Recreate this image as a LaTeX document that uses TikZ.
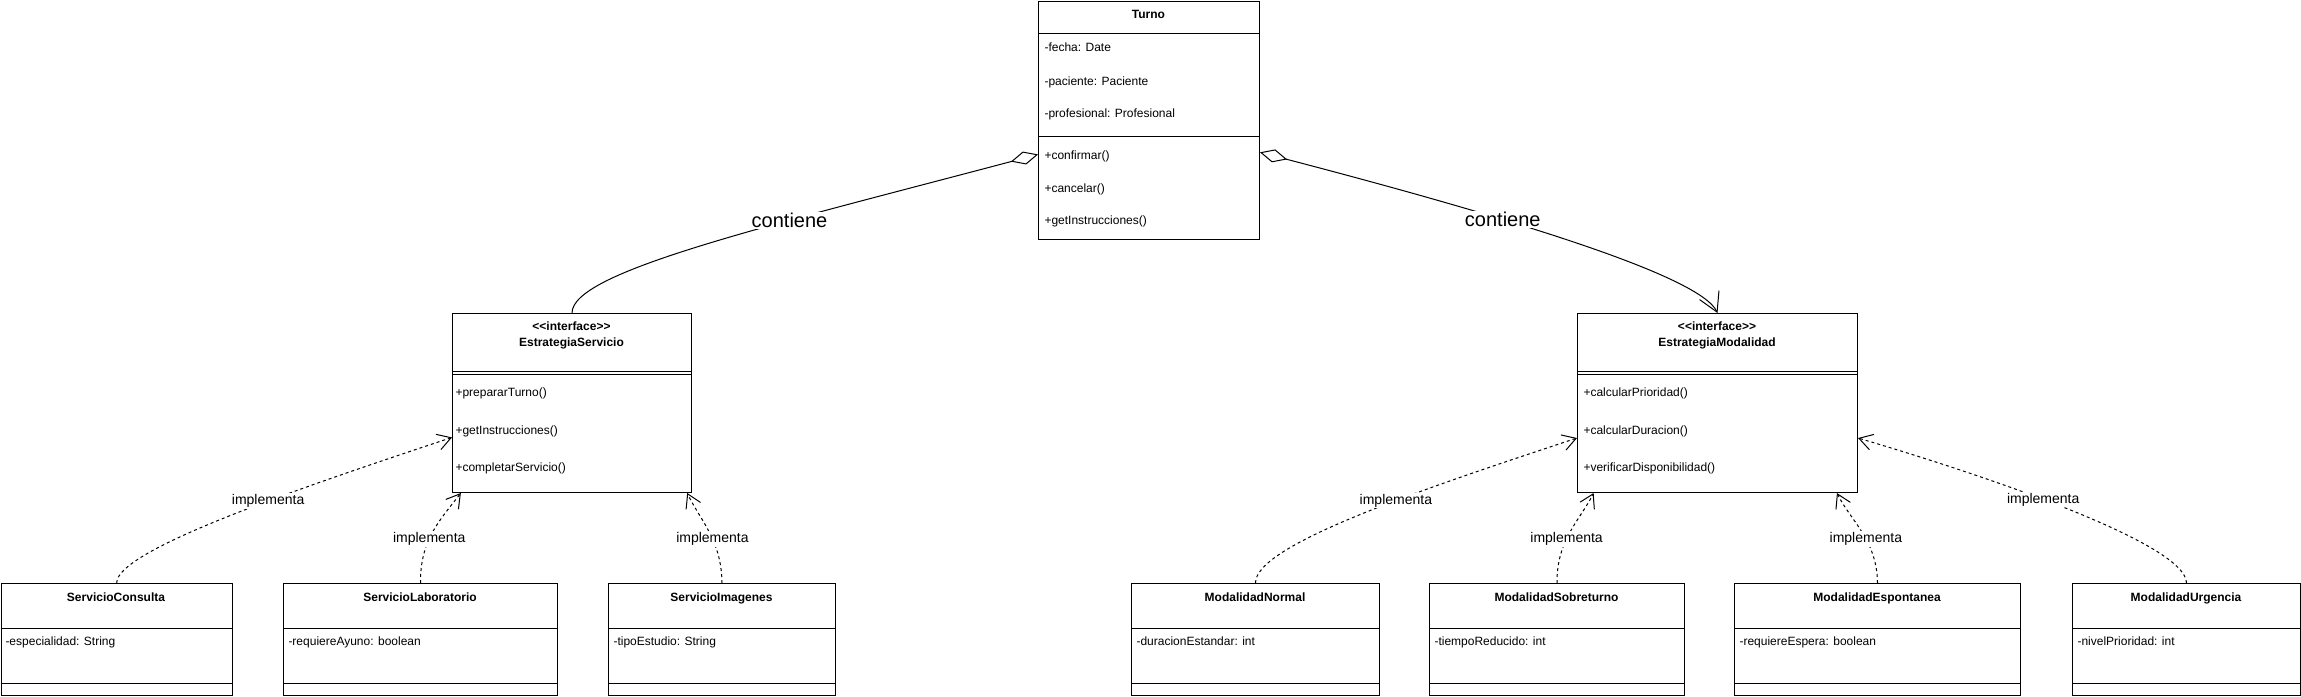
\documentclass[tikz,border=0pt]{standalone}
\usepackage{fontspec}
\setmainfont{Liberation Sans}
\usetikzlibrary{arrows.meta}

\begin{document}
\begin{tikzpicture}
      [x=0.75pt, y=-0.75pt, line width=0.75pt,
       classbox/.style={draw, anchor=north west, inner sep=0pt},
       member/.style={anchor=base west, inner sep=0pt, font=\fontsize{9}{11}\selectfont},
       title/.style={anchor=base, inner sep=0pt, font=\bfseries\fontsize{9}{11}\selectfont},
       contains/.style={{Diamond[open,length=21pt,width=10pt]}-},
       implements/.style={dashed, dash pattern=on 2.25pt off 2.25pt, -{Straight Barb[length=10pt,width=12pt]}},
       edgelabel/.style={fill=white, inner sep=1pt, font=\fontsize{10.5}{12}\selectfont},
       biglabel/.style={fill=white, inner sep=1pt, font=\fontsize{15}{18}\selectfont}]
      \useasboundingbox (0,0) rectangle (2301,696);

      % Turno
      \node (turno) [classbox, minimum width=165.75pt, minimum height=178.5pt] at (1038,1) {};
      \node (turnoname) [title] at (1148.5,18) {Turno};
      \draw (1038,33) -- (1259,33);
      \node (fecha) [member] at (1044,51) {-fecha: Date};
      \node (paciente) [member] at (1044,85) {-paciente: Paciente};
      \node (profesional) [member] at (1044,117) {-profesional: Profesional};
      \draw (1038,136) -- (1259,136);
      \node (confirmar) [member] at (1044,159) {+confirmar()};
      \node (cancelar) [member] at (1044,192) {+cancelar()};
      \node (getinstr) [member] at (1044,224) {+getInstrucciones()};

      % interfaces
      \node (servicio) [classbox, minimum width=179.25pt, minimum height=134.25pt] at (452,313) {};
      \node (servicioster) [title] at (571.5,330) {<\kern0pt<interface>\kern0pt>};
      \node (servicioname) [title] at (571.5,346) {EstrategiaServicio};
      \draw (452,371) -- (691,371);
      \draw (452,374) -- (691,374);
      \node (preparar) [member] at (455,396) {+prepararTurno()};
      \node (getinstrs) [member] at (455,434) {+getInstrucciones()};
      \node (completar) [member] at (455,471) {+completarServicio()};

      \node (modalidad) [classbox, minimum width=210pt, minimum height=134.25pt] at (1577,313) {};
      \node (modalidadster) [title] at (1717,330) {<\kern0pt<interface>\kern0pt>};
      \node (modalidadname) [title] at (1717,346) {EstrategiaModalidad};
      \draw (1577,371) -- (1857,371);
      \draw (1577,374) -- (1857,374);
      \node (prioridad) [member] at (1583,396) {+calcularPrioridad()};
      \node (duracion) [member] at (1583,434) {+calcularDuracion()};
      \node (disponib) [member] at (1583,471) {+verificarDisponibilidad()};

      % servicios
      \node (consulta) [classbox, minimum width=173.6pt, minimum height=84pt] at (0.5,583) {};
      \node (consultaname) [title] at (116,601) {ServicioConsulta};
      \draw (0.5,628) -- (232,628);
      \node (especialidad) [member] at (5,645) {-especialidad: String};
      \draw (0.5,683) -- (232,683);

      \node (lab) [classbox, minimum width=205.5pt, minimum height=84pt] at (283,583) {};
      \node (labname) [title] at (420,601) {ServicioLaboratorio};
      \draw (283,628) -- (557,628);
      \node (ayuno) [member] at (288,645) {-requiereAyuno: boolean};
      \draw (283,683) -- (557,683);

      \node (imagenes) [classbox, minimum width=170.25pt, minimum height=84pt] at (608,583) {};
      \node (imagenesname) [title] at (721.5,601) {ServicioImagenes};
      \draw (608,628) -- (835,628);
      \node (estudio) [member] at (613,645) {-tipoEstudio: String};
      \draw (608,683) -- (835,683);

      % modalidades
      \node (normal) [classbox, minimum width=186pt, minimum height=84pt] at (1131,583) {};
      \node (normalname) [title] at (1255,601) {ModalidadNormal};
      \draw (1131,628) -- (1379,628);
      \node (estandar) [member] at (1136,645) {-duracionEstandar: int};
      \draw (1131,683) -- (1379,683);

      \node (sobreturno) [classbox, minimum width=191.25pt, minimum height=84pt] at (1429,583) {};
      \node (sobreturnoname) [title] at (1556.5,601) {ModalidadSobreturno};
      \draw (1429,628) -- (1684,628);
      \node (reducido) [member] at (1434,645) {-tiempoReducido: int};
      \draw (1429,683) -- (1684,683);

      \node (espontanea) [classbox, minimum width=214.5pt, minimum height=84pt] at (1734,583) {};
      \node (espontaneaname) [title] at (1877,601) {ModalidadEspontanea};
      \draw (1734,628) -- (2020,628);
      \node (espera) [member] at (1739,645) {-requiereEspera: boolean};
      \draw (1734,683) -- (2020,683);

      \node (urgencia) [classbox, minimum width=171pt, minimum height=84pt] at (2072,583) {};
      \node (urgencianame) [title] at (2186,601) {ModalidadUrgencia};
      \draw (2072,628) -- (2300,628);
      \node (nivel) [member] at (2077,645) {-nivelPrioridad: int};
      \draw (2072,683) -- (2300,683);

      % contiene
      \draw [contains] (turno.197) .. controls (760,228) and (572,272) .. (servicio.north)
        node [biglabel, pos=0.34] {contiene};
      \draw [{Diamond[open,length=21pt,width=10pt]}-{Straight Barb[length=14pt,width=16pt]}] (turno.-16) .. controls (1500,215) and (1700,275) .. (modalidad.north)
        node [biglabel, pos=0.37] {contiene};

      % implementa
      \draw [implements] (consulta.north) .. controls (116,550) and (300,488) .. (servicio.196)
        node [edgelabel, pos=0.6] {implementa};
      \draw [implements] (lab.north) .. controls (420,540) and (440,520) .. (servicio.219)
        node [edgelabel, pos=0.42] {implementa};
      \draw [implements] (imagenes.north) .. controls (721.5,540) and (700,520) .. (servicio.-38.5)
        node [edgelabel, pos=0.42] {implementa};
      \draw [implements] (normal.north) .. controls (1255,545) and (1420,490) .. (modalidad.194)
        node [edgelabel, pos=0.6] {implementa};
      \draw [implements] (sobreturno.north) .. controls (1556.5,540) and (1580,520) .. (modalidad.216)
        node [edgelabel, pos=0.42] {implementa};
      \draw [implements] (espontanea.north) .. controls (1877,540) and (1850,520) .. (modalidad.-37)
        node [edgelabel, pos=0.42] {implementa};
      \draw [implements] (urgencia.north) .. controls (2186,545) and (2000,480) .. (modalidad.-14)
        node [edgelabel, pos=0.58] {implementa};
    \end{tikzpicture}
\end{document}
